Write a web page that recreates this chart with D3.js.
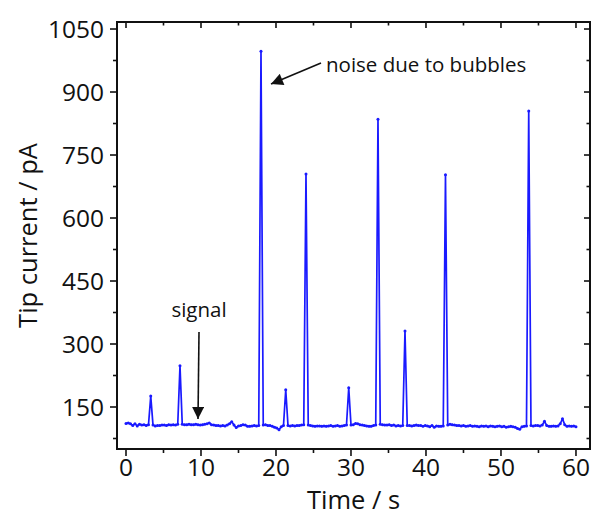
<!DOCTYPE html>
<html lang="en">
  <head>
    <meta charset="UTF-8" />
    <title>Tip current vs time</title>
    <script src="https://d3js.org/d3.v7.min.js"></script>
    <style>
      body {
        margin: 0;
        background-color: white;
        font-family: "Open Sans", Arial, sans-serif;
      }
      svg {
        display: block;
      }
      .tick-label {
        font-size: 24.5px;
        fill: #111;
      }
      .axis-title {
        font-size: 25.5px;
        fill: #111;
      }
      .note {
        font-size: 20.5px;
        fill: #111;
      }
    </style>
  </head>
  <body>
    <svg width="597" height="517"></svg>

    <script>
      // sampling of the trace (s)
      const tStart = 0;
      const tStep = 0.3;

      // tip current (pA), one value per sample
      const current = [
        111, 112, 110, 106, 110, 105, 109, 107, 108, 106,
        108, 176, 107, 105, 106, 106, 107, 107, 106, 108,
        107, 108, 107, 109, 248, 109, 108, 108, 109, 108,
        108, 109, 108, 107, 108, 109, 110, 112, 108, 107,
        106, 106, 105, 106, 105, 107, 110, 115, 107, 101,
        105, 106, 108, 107, 104, 104, 105, 106, 105, 106,
        997, 107, 108, 106, 106, 104, 102, 100, 96, 103,
        106, 191, 106, 105, 106, 105, 106, 106, 107, 108,
        705, 107, 106, 105, 104, 105, 105, 104, 105, 104,
        105, 106, 104, 105, 106, 104, 105, 106, 107, 196,
        107, 108, 111, 110, 108, 107, 106, 105, 104, 104,
        106, 107, 835, 109, 108, 107, 107, 108, 106, 107,
        105, 106, 105, 106, 331, 106, 106, 105, 106, 107,
        106, 106, 104, 106, 105, 103, 106, 102, 105, 104,
        104, 105, 703, 107, 109, 108, 107, 106, 106, 105,
        106, 104, 105, 106, 104, 105, 104, 103, 105, 104,
        105, 103, 105, 104, 103, 104, 105, 103, 104, 102,
        103, 104, 103, 102, 99, 97, 103, 104, 105, 855,
        106, 105, 106, 106, 105, 107, 116, 106, 104, 104,
        105, 104, 105, 110, 122, 108, 104, 105, 104, 105,
        103
      ];

      const xTicks = [0, 10, 20, 30, 40, 50, 60];
      const xMinor = [5, 15, 25, 35, 45, 55];
      const yTicks = [150, 300, 450, 600, 750, 900, 1050];
      const yMinor = [75, 225, 375, 525, 675, 825, 975];

      const data = current.map((v, i) => ({ t: tStart + i * tStep, v: v }));

      const plotL = 117, plotR = 590, plotT = 22, plotB = 449;

      const x = d3.scaleLinear().domain([-1.2, 61.87]).range([plotL, plotR]);
      const y = d3.scaleLinear().domain([50, 1066.7]).range([plotB, plotT]);

      const svg = d3.select("svg");

      // trace
      const line = d3.line().x((d) => x(d.t)).y((d) => y(d.v));
      svg.append("path")
        .datum(data)
        .attr("fill", "none")
        .attr("stroke", "#1a1aff")
        .attr("stroke-width", 1.7)
        .attr("stroke-linejoin", "round")
        .attr("d", line);

      svg.append("g")
        .selectAll("circle")
        .data(data)
        .join("circle")
        .attr("cx", (d) => x(d.t))
        .attr("cy", (d) => y(d.v))
        .attr("r", 1.5)
        .attr("fill", "#1a1aff");

      // frame
      svg.append("rect")
        .attr("x", plotL)
        .attr("y", plotT)
        .attr("width", plotR - plotL)
        .attr("height", plotB - plotT)
        .attr("fill", "none")
        .attr("stroke", "#111")
        .attr("stroke-width", 2);

      const ticks = svg.append("g").attr("stroke", "#111").attr("stroke-width", 1.6);

      // bottom (outward) and top (inward) ticks
      xTicks.forEach((t) => {
        ticks.append("line").attr("x1", x(t)).attr("x2", x(t)).attr("y1", plotB).attr("y2", plotB + 7);
        ticks.append("line").attr("x1", x(t)).attr("x2", x(t)).attr("y1", plotT).attr("y2", plotT + 6);
      });
      xMinor.forEach((t) => {
        ticks.append("line").attr("x1", x(t)).attr("x2", x(t)).attr("y1", plotB).attr("y2", plotB + 4);
        ticks.append("line").attr("x1", x(t)).attr("x2", x(t)).attr("y1", plotT).attr("y2", plotT + 3.5);
      });

      // left (outward) and right (inward) ticks
      yTicks.forEach((v) => {
        ticks.append("line").attr("x1", plotL - 7).attr("x2", plotL).attr("y1", y(v)).attr("y2", y(v));
        ticks.append("line").attr("x1", plotR - 6).attr("x2", plotR).attr("y1", y(v)).attr("y2", y(v));
      });
      yMinor.forEach((v) => {
        ticks.append("line").attr("x1", plotL - 4).attr("x2", plotL).attr("y1", y(v)).attr("y2", y(v));
        ticks.append("line").attr("x1", plotR - 3.5).attr("x2", plotR).attr("y1", y(v)).attr("y2", y(v));
      });

      // tick labels
      svg.append("g")
        .selectAll("text")
        .data(xTicks)
        .join("text")
        .attr("class", "tick-label")
        .attr("x", (d) => x(d))
        .attr("y", 476)
        .attr("text-anchor", "middle")
        .text((d) => d);

      svg.append("g")
        .selectAll("text")
        .data(yTicks)
        .join("text")
        .attr("class", "tick-label")
        .attr("x", 104)
        .attr("y", (d) => y(d) + 9)
        .attr("text-anchor", "end")
        .text((d) => d);

      // axis titles
      svg.append("text")
        .attr("class", "axis-title")
        .attr("x", (plotL + plotR) / 2)
        .attr("y", 509)
        .attr("text-anchor", "middle")
        .text("Time / s");

      svg.append("text")
        .attr("class", "axis-title")
        .attr("transform", `translate(37,${(plotT + plotB) / 2}) rotate(-90)`)
        .attr("text-anchor", "middle")
        .text("Tip current / pA");

      // annotations
      svg.append("defs")
        .append("marker")
        .attr("id", "head")
        .attr("viewBox", "0 0 10 10")
        .attr("refX", 10)
        .attr("refY", 5)
        .attr("markerUnits", "userSpaceOnUse")
        .attr("markerWidth", 13)
        .attr("markerHeight", 12)
        .attr("orient", "auto")
        .append("path")
        .attr("d", "M0,0 L10,5 L0,10 Z")
        .attr("fill", "#111");

      svg.append("text")
        .attr("class", "note")
        .attr("x", 199)
        .attr("y", 317)
        .attr("text-anchor", "middle")
        .text("signal");

      svg.append("line")
        .attr("x1", 199).attr("y1", 332)
        .attr("x2", 198).attr("y2", 419)
        .attr("stroke", "#111")
        .attr("stroke-width", 1.6)
        .attr("marker-end", "url(#head)");

      svg.append("text")
        .attr("class", "note")
        .attr("x", 326)
        .attr("y", 72)
        .text("noise due to bubbles");

      svg.append("line")
        .attr("x1", 321).attr("y1", 63)
        .attr("x2", 271).attr("y2", 84)
        .attr("stroke", "#111")
        .attr("stroke-width", 1.6)
        .attr("marker-end", "url(#head)");
    </script>
  </body>
</html>
